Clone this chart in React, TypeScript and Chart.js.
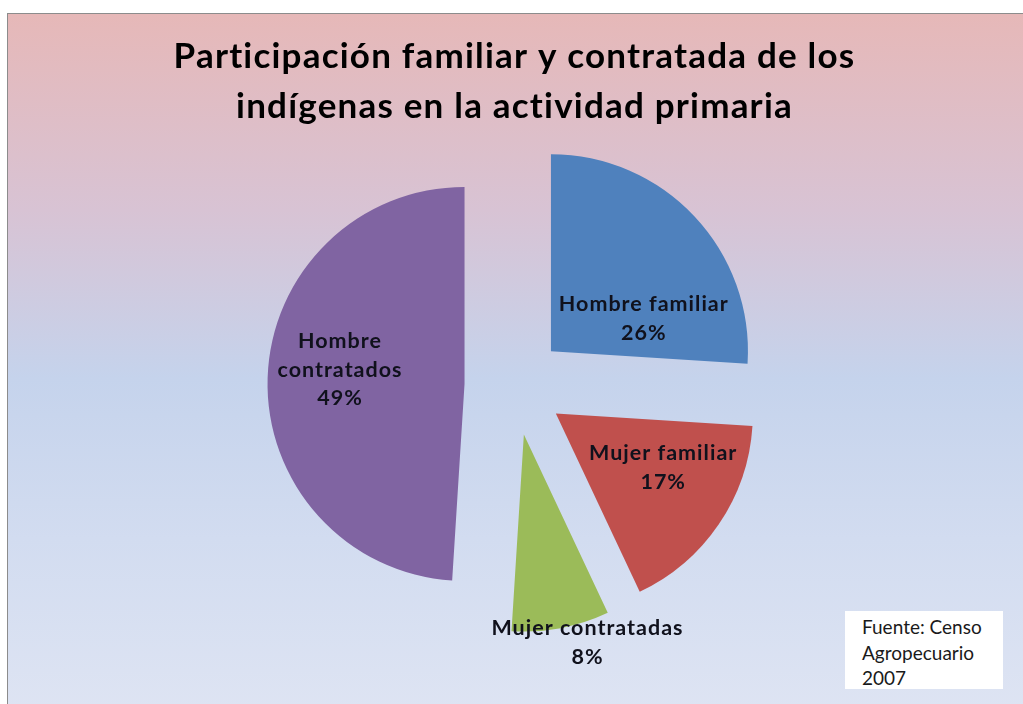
import React, { useEffect, useRef } from 'react';
import { Chart, registerables } from 'chart.js';

Chart.register(...registerables);

// ---- data ----
const categories = ['Hombre familiar', 'Mujer familiar', 'Mujer contratadas', 'Hombre contratados'];
const shares = [26, 17, 8, 49];
const sliceColors = ['#4F81BD', '#C0504D', '#9BBB59', '#8064A2'];
const titleLines = ['Participación familiar y contratada de los', 'indígenas en la actividad primaria'];
const sourceLines = ['Fuente: Censo', 'Agropecuario', '2007'];

// ---- styling / layout ----
const EXPLODE = 50;
const LABEL_PLACEMENT = [
  { angle: 70.5, radius: 0.5, maxWidth: 240 },
  { angle: 116.7, radius: 0.61, maxWidth: 240 },
  { angle: 163, radius: 1.105, maxWidth: 260 },
  { angle: 276.4, radius: 0.636, maxWidth: 140 },
];

function wrapText(ctx: CanvasRenderingContext2D, text: string, maxWidth: number): string[] {
  const words = text.split(' ');
  const lines: string[] = [];
  let cur = '';
  for (const w of words) {
    const test = cur ? cur + ' ' + w : w;
    if (cur && ctx.measureText(test).width > maxWidth) {
      lines.push(cur);
      cur = w;
    } else {
      cur = test;
    }
  }
  if (cur) lines.push(cur);
  return lines;
}

// letter spacing for the title (drawn before the datasets)
const titleSpacingPlugin = {
  id: 'titleSpacing',
  beforeDraw(chart: any, _args: any, opts: any) {
    (chart.ctx as any).letterSpacing = opts.spacing + 'px';
  },
  beforeDatasetsDraw(chart: any) {
    (chart.ctx as any).letterSpacing = '0px';
  },
};

const explodePlugin = {
  id: 'explode',
  beforeDatasetDraw(chart: any, args: any, opts: any) {
    const ctx = chart.ctx as CanvasRenderingContext2D;
    args.meta.data.forEach((arc: any) => {
      const mid = (arc.startAngle + arc.endAngle) / 2;
      ctx.save();
      ctx.translate(Math.cos(mid) * opts.distance, Math.sin(mid) * opts.distance);
      arc.draw(ctx, chart.chartArea);
      ctx.restore();
    });
    return false;
  },
};

const sliceLabelPlugin = {
  id: 'sliceLabels',
  afterDatasetsDraw(chart: any, _args: any, opts: any) {
    const meta = chart.getDatasetMeta(0);
    const ctx = chart.ctx as CanvasRenderingContext2D;
    const data = chart.data.datasets[0].data as number[];
    const total = data.reduce((a, b) => a + b, 0);
    ctx.save();
    ctx.font = `bold ${opts.fontSize}px ${opts.fontFamily}`;
    (ctx as any).letterSpacing = opts.letterSpacing + 'px';
    ctx.fillStyle = opts.color;
    ctx.textAlign = 'center';
    ctx.textBaseline = 'middle';
    meta.data.forEach((arc: any, i: number) => {
      const p = opts.placement[i];
      const mid = (arc.startAngle + arc.endAngle) / 2;
      const cx = arc.x + Math.cos(mid) * opts.explode;
      const cy = arc.y + Math.sin(mid) * opts.explode;
      const a = ((p.angle - 90) * Math.PI) / 180;
      const x = cx + Math.cos(a) * p.radius * arc.outerRadius;
      const y = cy + Math.sin(a) * p.radius * arc.outerRadius;
      const lines = [
        ...wrapText(ctx, String(chart.data.labels[i]), p.maxWidth),
        Math.round((data[i] / total) * 100) + '%',
      ];
      lines.forEach((ln, k) => {
        ctx.fillText(ln, x, y + (k - (lines.length - 1) / 2) * opts.lineHeight);
      });
    });
    ctx.restore();
  },
};

export default function App() {
  const canvasRef = useRef<HTMLCanvasElement | null>(null);

  useEffect(() => {
    if (!canvasRef.current) return;
    const chart = new Chart(canvasRef.current, {
      type: 'pie',
      data: {
        labels: categories,
        datasets: [
          {
            data: shares,
            backgroundColor: sliceColors,
            borderWidth: 0,
            offset: 0,
            hoverOffset: 0,
            radius: 197,
          } as any,
        ],
      },
      options: {
        responsive: false,
        animation: false,
        events: [],
        layout: { padding: { left: 6, right: 0, top: 0, bottom: 65 } },
        plugins: {
          legend: { display: false },
          tooltip: { enabled: false },
          title: {
            display: true,
            text: titleLines,
            color: '#000000',
            font: { family: 'Lato', weight: 'bold', size: 35, lineHeight: 50 / 35 },
            padding: { top: 32, bottom: 0 },
          },
          titleSpacing: { spacing: 1.2 },
          explode: { distance: EXPLODE },
          sliceLabels: {
            explode: EXPLODE,
            placement: LABEL_PLACEMENT,
            fontFamily: 'Lato',
            fontSize: 21.5,
            letterSpacing: 1,
            lineHeight: 28.5,
            color: '#10111c',
          },
        } as any,
      },
      plugins: [titleSpacingPlugin, explodePlugin, sliceLabelPlugin],
    });
    return () => chart.destroy();
  }, []);

  return (
    <div
      style={{
        position: 'fixed',
        left: 0,
        top: 0,
        width: 1023,
        height: 704,
        overflow: 'hidden',
        background: '#ffffff',
      }}
    >
      <div
        style={{
          position: 'absolute',
          left: 7,
          top: 13,
          width: 1030,
          height: 700,
          borderTop: '1px solid #8c8c8c',
          borderLeft: '1px solid #8c8c8c',
          background:
            'linear-gradient(180deg, #E6B8B8 0%, #D8C3D4 28%, #C5D3EC 52%, #D2DCF0 75%, #DEE4F3 100%)',
        }}
      />
      <canvas
        ref={canvasRef}
        width={1023}
        height={704}
        style={{ position: 'absolute', left: 0, top: 0, width: 1023, height: 704 }}
      />
      <div
        style={{
          position: 'absolute',
          left: 845,
          top: 611,
          width: 158,
          height: 78,
          background: '#ffffff',
          boxSizing: 'border-box',
          paddingLeft: 17,
          paddingTop: 3,
          fontFamily: 'Lato, sans-serif',
          fontSize: 19,
          lineHeight: '25.5px',
          color: '#1a1a1a',
        }}
      >
        {sourceLines.map((l) => (
          <div key={l}>{l}</div>
        ))}
      </div>
    </div>
  );
}
